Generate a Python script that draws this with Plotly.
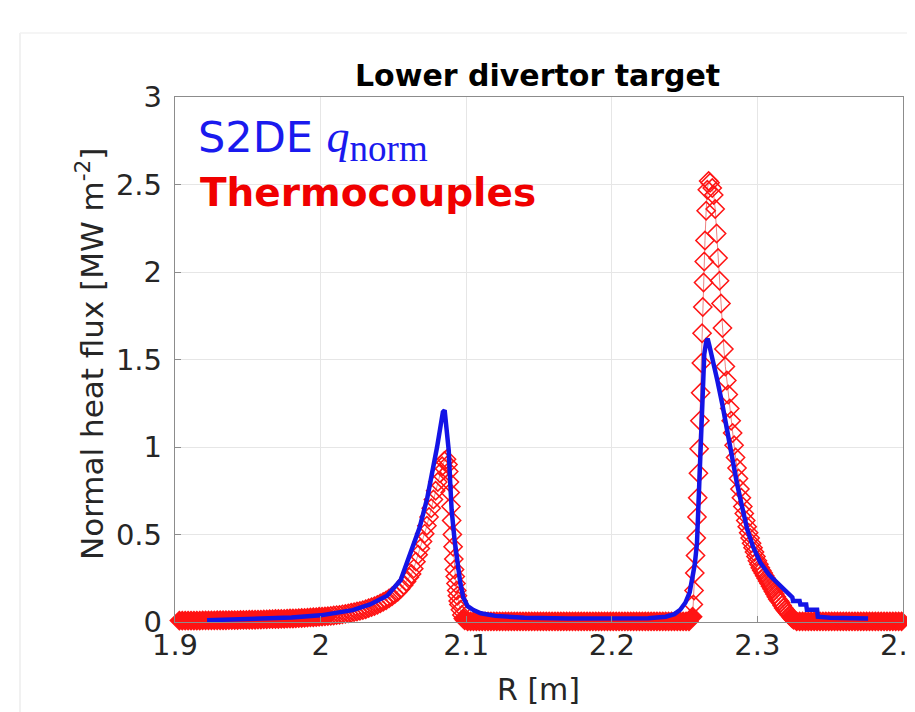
import plotly.graph_objects as go

# ---------------- data ----------------
# Thermocouples (red), split into segments
tc_R_left = [1.903, 1.905, 1.907, 1.909, 1.911, 1.913, 1.915, 1.917, 1.919, 1.921,
             1.923, 1.925, 1.927, 1.929, 1.931, 1.933, 1.935, 1.937, 1.939, 1.941,
             1.943, 1.945, 1.947, 1.949, 1.951, 1.953, 1.955, 1.957, 1.959, 1.961,
             1.963, 1.965, 1.967, 1.969, 1.971, 1.973, 1.975, 1.977, 1.979, 1.981,
             1.983, 1.985, 1.987, 1.989, 1.991, 1.993, 1.995, 1.997, 1.999]
tc_q_left = [0.008, 0.008, 0.008, 0.008, 0.008, 0.008, 0.008, 0.008, 0.009, 0.009,
             0.009, 0.009, 0.009, 0.010, 0.010, 0.010, 0.010, 0.011, 0.011, 0.011,
             0.011, 0.012, 0.012, 0.012, 0.013, 0.013, 0.013, 0.014, 0.014, 0.015,
             0.015, 0.016, 0.016, 0.017, 0.017, 0.018, 0.018, 0.019, 0.020, 0.020,
             0.021, 0.022, 0.023, 0.024, 0.025, 0.026, 0.027, 0.028, 0.030]

tc_R_peak1 = [2.001, 2.003, 2.005, 2.007, 2.009, 2.011, 2.013, 2.015, 2.017, 2.019,
              2.021, 2.023, 2.025, 2.027, 2.029, 2.031, 2.033, 2.035, 2.037, 2.039,
              2.041, 2.043, 2.045, 2.047, 2.049, 2.051, 2.053, 2.055, 2.057, 2.059,
              2.061,
              2.0625, 2.064, 2.0655, 2.067, 2.0685, 2.070, 2.0715, 2.073, 2.0745, 2.076,
              2.0775, 2.079, 2.0805, 2.082, 2.0835, 2.085, 2.0865,
              2.0875, 2.088, 2.0885, 2.089, 2.0895, 2.090, 2.0905, 2.091, 2.0915, 2.092,
              2.0925, 2.093, 2.0935, 2.094, 2.0945, 2.095, 2.096, 2.097, 2.098, 2.099]
tc_q_peak1 = [0.031, 0.032, 0.034, 0.035, 0.037, 0.039, 0.041, 0.044, 0.046, 0.049,
              0.053, 0.056, 0.060, 0.064, 0.068, 0.073, 0.079, 0.085, 0.091, 0.098,
              0.106, 0.115, 0.124, 0.135, 0.146, 0.159, 0.173, 0.190, 0.210, 0.232,
              0.256,
              0.275, 0.305, 0.345, 0.385, 0.420, 0.460, 0.505, 0.550, 0.600, 0.650,
              0.700, 0.750, 0.800, 0.850, 0.890, 0.920, 0.930,
              0.900, 0.860, 0.800, 0.740, 0.660, 0.580, 0.500, 0.430, 0.360, 0.300,
              0.260, 0.220, 0.180, 0.150, 0.120, 0.100, 0.070, 0.040, 0.020, 0.010]

tc_R_mid = [2.101, 2.103, 2.105, 2.107, 2.109, 2.111, 2.113, 2.115, 2.117, 2.119,
            2.121, 2.123, 2.125, 2.127, 2.129, 2.131, 2.133, 2.135, 2.137, 2.139,
            2.141, 2.143, 2.145, 2.147, 2.149, 2.151, 2.153, 2.155, 2.157, 2.159,
            2.161, 2.163, 2.165, 2.167, 2.169, 2.171, 2.173, 2.175, 2.177, 2.179,
            2.181, 2.183, 2.185, 2.187, 2.189, 2.191, 2.193, 2.195, 2.197, 2.199,
            2.201, 2.203, 2.205, 2.207, 2.209, 2.211, 2.213, 2.215, 2.217, 2.219,
            2.221, 2.223, 2.225, 2.227, 2.229, 2.231, 2.233, 2.235, 2.237, 2.239,
            2.241, 2.243, 2.245, 2.247, 2.249, 2.251, 2.253]
tc_q_mid = [0.004, 0.004, 0.004, 0.004, 0.004, 0.004, 0.004, 0.004, 0.004, 0.004,
            0.004, 0.004, 0.004, 0.004, 0.004, 0.004, 0.004, 0.004, 0.004, 0.004,
            0.004, 0.004, 0.004, 0.004, 0.004, 0.004, 0.004, 0.004, 0.004, 0.004,
            0.004, 0.004, 0.004, 0.004, 0.004, 0.004, 0.004, 0.004, 0.004, 0.004,
            0.004, 0.004, 0.004, 0.004, 0.004, 0.004, 0.004, 0.004, 0.004, 0.004,
            0.004, 0.004, 0.004, 0.004, 0.004, 0.004, 0.004, 0.004, 0.004, 0.004,
            0.004, 0.004, 0.004, 0.004, 0.004, 0.004, 0.004, 0.004, 0.004, 0.004,
            0.004, 0.004, 0.004, 0.004, 0.004, 0.004, 0.004]

tc_R_peak2 = [2.2555, 2.256, 2.2565, 2.257, 2.2575, 2.258, 2.2585, 2.259, 2.2595, 2.260,
              2.2605, 2.261, 2.2615, 2.262, 2.2625, 2.263, 2.2635,
              2.264, 2.2648, 2.2656, 2.2665, 2.2675,
              2.269,
              2.270, 2.271, 2.272, 2.273, 2.274, 2.275, 2.276, 2.277, 2.278, 2.279,
              2.280, 2.281, 2.282, 2.283, 2.284, 2.285, 2.286, 2.287, 2.288, 2.289,
              2.290,
              2.291, 2.292, 2.293, 2.294, 2.295, 2.296, 2.297, 2.298, 2.299, 2.300,
              2.301, 2.302, 2.303, 2.304, 2.305, 2.306, 2.307, 2.308, 2.309, 2.310,
              2.311, 2.312, 2.313, 2.314, 2.315, 2.316, 2.317, 2.318, 2.319, 2.320,
              2.321, 2.322, 2.323, 2.324, 2.325]
tc_q_peak2 = [0.03, 0.10, 0.18, 0.28, 0.38, 0.48, 0.60, 0.71, 0.85, 0.99,
              1.15, 1.31, 1.48, 1.65, 1.80, 1.94, 2.06,
              2.18, 2.35, 2.47, 2.52, 2.51,
              2.48,
              2.44, 2.36, 2.22, 2.08, 1.95, 1.82, 1.68, 1.56, 1.46, 1.38,
              1.30, 1.22, 1.15, 1.08, 1.01, 0.94, 0.88, 0.82, 0.76, 0.71,
              0.66,
              0.62, 0.58, 0.545, 0.51, 0.48, 0.45, 0.425, 0.40, 0.375, 0.35,
              0.33, 0.31, 0.295, 0.28, 0.265, 0.25, 0.235, 0.22, 0.205, 0.19,
              0.175, 0.16, 0.145, 0.13, 0.12, 0.11, 0.095, 0.08, 0.07, 0.06,
              0.05, 0.04, 0.03, 0.02, 0.012]

tc_R_right = [2.327, 2.329, 2.331, 2.333, 2.335, 2.337, 2.339, 2.341, 2.343, 2.345,
              2.347, 2.349, 2.351, 2.353, 2.355, 2.357, 2.359, 2.361, 2.363, 2.365,
              2.367, 2.369, 2.371, 2.373, 2.375, 2.377, 2.379, 2.381, 2.383, 2.385,
              2.387, 2.389, 2.391, 2.393, 2.395, 2.397, 2.399, 2.401]
tc_q_right = [0.004, 0.004, 0.004, 0.004, 0.004, 0.004, 0.004, 0.004, 0.004, 0.004,
              0.004, 0.004, 0.004, 0.004, 0.004, 0.004, 0.004, 0.004, 0.004, 0.004,
              0.004, 0.004, 0.004, 0.004, 0.004, 0.004, 0.004, 0.004, 0.004, 0.004,
              0.004, 0.004, 0.004, 0.004, 0.004, 0.004, 0.004, 0.004]

# S2DE q_norm (blue)
s2de_R = [1.922, 1.940, 1.960, 1.980, 2.000, 2.011, 2.022, 2.034, 2.0457, 2.055,
          2.0636, 2.068, 2.0733, 2.0765, 2.080, 2.082, 2.084, 2.0852, 2.0865, 2.088,
          2.089, 2.090, 2.092, 2.094, 2.096, 2.098, 2.101, 2.105, 2.110, 2.120,
          2.140, 2.170, 2.200, 2.225, 2.237, 2.243, 2.247, 2.2505, 2.2535, 2.2555,
          2.257, 2.2585, 2.2595, 2.2605, 2.2615, 2.2625, 2.2635, 2.2648, 2.2658, 2.267,
          2.270, 2.2725, 2.276, 2.279, 2.283, 2.286, 2.290, 2.293, 2.297, 2.302,
          2.308, 2.314, 2.318, 2.3215, 2.324, 2.3245, 2.329, 2.3295, 2.3335, 2.334,
          2.341, 2.3415, 2.350, 2.376]
s2de_q = [0.010, 0.013, 0.018, 0.026, 0.038, 0.050, 0.068, 0.100, 0.150, 0.240,
          0.430, 0.540, 0.710, 0.840, 1.000, 1.100, 1.200, 1.210, 1.120, 0.980,
          0.800, 0.640, 0.470, 0.340, 0.220, 0.140, 0.090, 0.068, 0.050, 0.035,
          0.025, 0.020, 0.020, 0.022, 0.030, 0.045, 0.070, 0.110, 0.170, 0.250,
          0.330, 0.450, 0.680, 1.000, 1.200, 1.420, 1.530, 1.600, 1.620, 1.580,
          1.480, 1.380, 1.240, 1.100, 0.930, 0.790, 0.640, 0.530, 0.430, 0.340,
          0.270, 0.220, 0.190, 0.165, 0.140, 0.120, 0.120, 0.100, 0.100, 0.070,
          0.070, 0.030, 0.025, 0.020]

x_ticks = [1.9, 2.0, 2.1, 2.2, 2.3, 2.4]
x_tick_text = ["1.9", "2", "2.1", "2.2", "2.3", "2.4"]
y_ticks = [0, 0.5, 1, 1.5, 2, 2.5, 3]
y_tick_text = ["0", "0.5", "1", "1.5", "2", "2.5", "3"]

tc_R = tc_R_left + tc_R_peak1 + tc_R_mid + tc_R_peak2 + tc_R_right
tc_q = tc_q_left + tc_q_peak1 + tc_q_mid + tc_q_peak2 + tc_q_right

# style: overlapping markers on the flat baseline read as a solid band
tc_symbols = ["diamond" if v < 0.035 else "diamond-open" for v in tc_q]

# ---------------- figure ----------------
FONT = "DejaVu Sans, Liberation Sans, Arial, sans-serif"
SERIF = "Liberation Serif, DejaVu Serif, serif"
OFF = 8                      # page body margin
W, H = 907, 704
L, R, T, B = 167, 12, 89, 90
pw, ph = W - L - R, H - T - B

def px2x(px):               # page pixel -> paper x
    return (px - OFF - L) / pw

def py2y(py):               # page pixel -> paper y
    return (H - B - (py - OFF)) / ph

fig = go.Figure()
fig.add_trace(go.Scatter(
    x=tc_R, y=tc_q, mode="lines+markers", name="Thermocouples",
    line=dict(color="rgba(225,60,60,0.8)", width=0.8),
    marker=dict(symbol=tc_symbols, size=14, color="#ff1414",
                line=dict(width=1.5, color="#ff1414")),
    cliponaxis=False, showlegend=False))
fig.add_trace(go.Scatter(
    x=s2de_R, y=s2de_q, mode="lines", name="S2DE",
    line=dict(color="#1414e6", width=4.5),
    cliponaxis=False, showlegend=False))

axis_common = dict(
    showline=True, linecolor="#8c8c8c", linewidth=1.3, mirror=True,
    ticks="inside", ticklen=6, tickcolor="#8c8c8c", tickwidth=1,
    showgrid=True, gridcolor="#e6e6e6", gridwidth=1, zeroline=False,
    automargin=False, ticklabeloverflow="allow",
    tickfont=dict(family=FONT, size=29, color="#262626"),
)
fig.update_xaxes(range=[1.9, 2.4], tickvals=x_ticks, ticktext=x_tick_text,
                 ticklabelstandoff=-3, **axis_common)
fig.update_yaxes(range=[0, 3], tickvals=y_ticks, ticktext=y_tick_text,
                 ticklabelstandoff=6, **axis_common)

annotations = [
    dict(text="<b>Lower divertor target</b>", x=px2x(537), y=py2y(75), xref="paper", yref="paper",
         showarrow=False, font=dict(family=FONT, size=30, color="#000000"),
         xanchor="center", yanchor="middle"),
    dict(text="R [m]", x=px2x(538), y=py2y(689), xref="paper", yref="paper",
         showarrow=False, font=dict(family=FONT, size=30, color="#262626"),
         xanchor="center", yanchor="middle"),
    dict(text="Normal heat flux [MW m<sup>-2</sup>]", x=px2x(90), y=py2y(354),
         xref="paper", yref="paper", textangle=-90, showarrow=False,
         font=dict(family=FONT, size=31, color="#262626"),
         xanchor="center", yanchor="middle"),
    dict(text="S2DE <span style='font-family:" + SERIF + ";font-size:46px'><i>q</i></span>"
              "<sub><span style='font-family:" + SERIF + ";font-size:37px'>norm</span></sub>",
         x=px2x(196), y=py2y(140), xref="paper", yref="paper", showarrow=False,
         font=dict(family=FONT, size=43, color="#1a1aee"),
         xanchor="left", yanchor="middle"),
    dict(text="<b>Thermocouples</b>", x=px2x(198), y=py2y(192), xref="paper", yref="paper",
         showarrow=False, font=dict(family=FONT, size=39, color="#f00000"),
         xanchor="left", yanchor="middle"),
]

shapes = [
    dict(type="line", xref="paper", yref="paper", x0=px2x(20), x1=px2x(20),
         y0=py2y(33), y1=py2y(712), line=dict(color="#ececec", width=1.5), layer="below"),
    dict(type="line", xref="paper", yref="paper", x0=px2x(20), x1=px2x(915),
         y0=py2y(33), y1=py2y(33), line=dict(color="#f2f2f2", width=1.5), layer="below"),
]

fig.update_layout(
    width=W, height=H,
    margin=dict(l=L, r=R, t=T, b=B, pad=0, autoexpand=False),
    paper_bgcolor="white", plot_bgcolor="white",
    annotations=annotations, shapes=shapes,
    showlegend=False,
)

fig.write_html("out.html")
